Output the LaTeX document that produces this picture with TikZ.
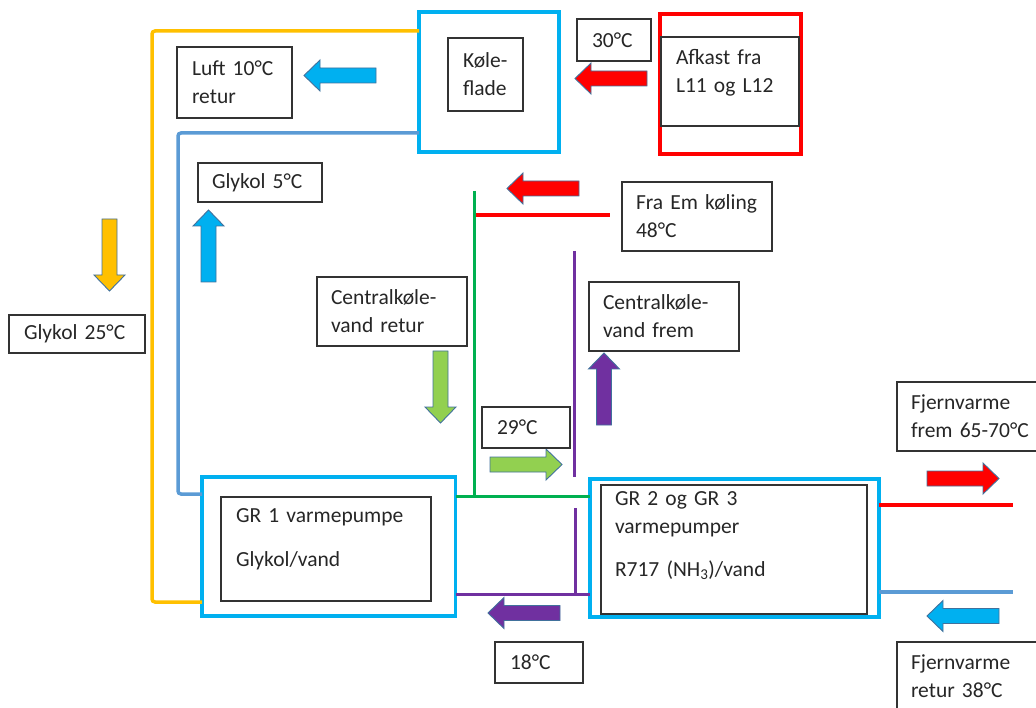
\documentclass[tikz,border=0pt]{standalone}
\usepackage{fontspec}
\setmainfont{Carlito}
\usetikzlibrary{calc}

\definecolor{kcyan}{HTML}{00B0F0}
\definecolor{kred}{HTML}{FF0000}
\definecolor{kyellow}{HTML}{FFC000}
\definecolor{kgreen}{HTML}{00B050}
\definecolor{klime}{HTML}{92D050}
\definecolor{kpurple}{HTML}{7030A0}
\definecolor{kblue}{HTML}{5B9BD5}
\definecolor{kedge}{HTML}{41719C}

\tikzset{
  lbl/.style={draw=black!80, line width=1.2pt, anchor=north west, align=left,
    inner xsep=15pt, inner ysep=0pt, outer sep=0pt, text=black!85,
    font=\fontsize{21.5}{28}\selectfont},
  plant/.style={draw=#1, line width=3.5pt, anchor=north west, inner sep=0pt, outer sep=0pt},
  pipe/.style={draw=#1, line width=3.5pt},
  flow/.style={draw=kedge, line width=0.9pt, fill=#1},
}

\begin{document}
\begin{tikzpicture}[x=1pt,y=-1pt]
	\useasboundingbox (0,0) rectangle (1036,708);
	\clip (0,0) rectangle (1036,708);
	% units
	\node[plant=kcyan, minimum width=140, minimum height=140] (kolout) at (419,12) {};
	\node[plant=kred, minimum width=141, minimum height=140] (afkout) at (660,14) {};
	\node[plant=kcyan, minimum width=253.5, minimum height=139] (gr1out) at (202,477) {};
	\node[plant=kcyan, minimum width=289, minimum height=138] (gr2out) at (590,479) {};
	% pipe corners and free ends
	\coordinate (ytop) at (152,31);
	\coordinate (ybot) at (152,602);
	\coordinate (btop) at (178,133);
	\coordinate (bbot) at (178,494);
	\coordinate (gtop) at (474,191);
	\coordinate (gbot) at (474,496);
	\coordinate (rleft) at (476,215);
	\coordinate (rright) at (610,215);
	\coordinate (pup1) at (574,251);
	\coordinate (pup2) at (574,477);
	\coordinate (plow) at (575,508);
	\coordinate (pbot) at (575,594);
	\coordinate (fjred) at (1013,505);
	\coordinate (fjblue) at (1013,592);
	% pipes
	\draw[pipe=kyellow, rounded corners=3pt] (kolout.west |- ytop) -- (ytop) -- (ybot) -- (gr1out.west |- ybot);
	\draw[pipe=kblue, rounded corners=3pt] (kolout.west |- btop) -- (btop) -- (bbot) -- (gr1out.west |- bbot);
	\draw[pipe=kgreen, line width=3pt] (gr1out.east |- gbot) -- (gr2out.west |- gbot);
	\draw[pipe=kgreen, line width=3pt] (gtop) -- (gbot);
	\draw[pipe=kred] (rleft) -- (rright);
	\draw[pipe=kpurple, line width=3pt] (pup1) -- (pup2);
	\draw[pipe=kpurple, line width=3pt] (plow) -- (pbot);
	\draw[pipe=kpurple, line width=3pt] (gr1out.east |- pbot) -- (gr2out.west |- pbot);
	\draw[pipe=kred] (gr2out.east |- fjred) -- (fjred);
	\draw[pipe=kblue] (gr2out.east |- fjblue) -- (fjblue);
	% flow arrows: colour / tip x / tip y / angle
	\foreach \col/\x/\y/\ang in {kred/575/78.5/180, kcyan/304/75.5/180, kcyan/208.5/210/90,
	  kyellow/109.5/291/-90, kred/507/188.5/180, klime/440.5/423/-90, kpurple/604/353/90,
	  klime/562/464.5/0, kpurple/488/613/180, kred/999/478.5/0, kcyan/927/616/180}
	  \draw[flow=\col, shift={(\x,\y)}, rotate=\ang] (0,0) -- (-16,15.5) -- (-16,7.5) -- (-72,7.5)
	    -- (-72,-7.5) -- (-16,-7.5) -- (-16,-15.5) -- cycle;
	% labels
	\node[lbl, text width=85pt, minimum height=71] (luft) at (177,47) {Luft 10°C\\retur};
	\node[lbl, text width=45pt, minimum height=73] (kol) at (448,38) {Køle-\\flade};
	\node[lbl, text width=44pt, minimum height=42] (t30) at (577,19) {30°C};
	\node[lbl, text width=108pt, minimum height=89, text depth=50pt] (afk) at (661,37) {Afkast fra\\L11 og L12};
	\node[lbl, inner xsep=14pt, text width=96pt, minimum height=39] (gly5) at (198,163) {Glykol 5°C};
	\node[lbl, text width=106pt, minimum height=38] (gly25) at (9,315) {Glykol 25°C};
	\node[lbl, inner xsep=14pt, text width=122pt, minimum height=69] (fraem) at (622,182) {Fra Em køling\\48°C};
	\node[lbl, inner xsep=14pt, text width=122pt, minimum height=69] (cretur) at (317,277) {Centralkøle-\\vand retur};
	\node[lbl, inner xsep=14pt, text width=122pt, minimum height=69] (cfrem) at (589,282) {Centralkøle-\\vand frem};
	\node[lbl, text width=58pt, minimum height=41] (t29) at (482,407) {29°C};
	\node[lbl, text width=180pt, minimum height=104, text depth=67pt] (gr1) at (221,497) {GR 1 varmepumpe\\[16pt]Glykol/vand};
	\node[lbl, text width=58pt, minimum height=41] (t18) at (495,642) {18°C};
	\node[lbl, inner xsep=14pt, text width=238pt, minimum height=129, text depth=102pt] (gr2) at (601,485)
	  {GR 2 og GR 3\\varmepumper\\[15pt]R717 (NH\textsubscript{3})/vand};
	\node[lbl, inner xsep=14pt, text width=140pt, minimum height=69] (fjfrem) at (897,382) {Fjernvarme\\frem 65-70°C};
	\node[lbl, inner xsep=14pt, text width=140pt, minimum height=69] (fjretur) at (897,642) {Fjernvarme\\retur 38°C};
\end{tikzpicture}
\end{document}
